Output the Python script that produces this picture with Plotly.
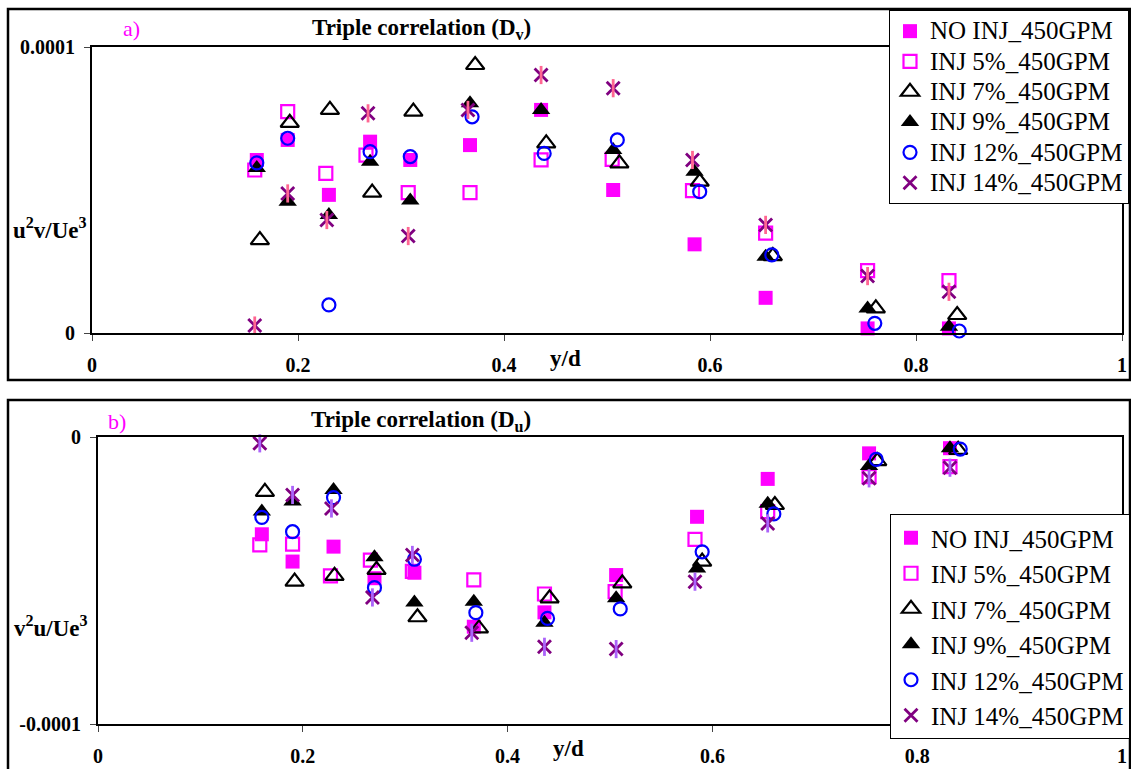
import plotly.graph_objects as go

# Measurement stations y/d for each series (shared by both panels)
x_no_inj = [0.160, 0.190, 0.230, 0.270, 0.309, 0.367, 0.436, 0.506, 0.585, 0.654, 0.753, 0.832]
x_inj5 = [0.158, 0.190, 0.227, 0.266, 0.307, 0.367, 0.436, 0.505, 0.583, 0.654, 0.753, 0.832]
x_inj7 = [0.163, 0.192, 0.231, 0.272, 0.312, 0.372, 0.441, 0.512, 0.590, 0.661, 0.761, 0.840]
x_inj9 = [0.160, 0.190, 0.230, 0.270, 0.309, 0.367, 0.436, 0.506, 0.585, 0.654, 0.753, 0.832]
x_inj12 = [0.160, 0.190, 0.230, 0.270, 0.309, 0.369, 0.439, 0.510, 0.590, 0.660, 0.760, 0.842]
x_inj14 = [0.158, 0.190, 0.228, 0.268, 0.307, 0.365, 0.436, 0.506, 0.583, 0.654, 0.753, 0.832]

# Panel a) triple correlation Dv : u^2 v / Ue^3
dv_no_inj = [6.05e-5, 6.75e-5, 4.83e-5, 6.69e-5, 6.05e-5, 6.57e-5, 7.80e-5, 5.00e-5, 3.10e-5, 1.23e-5, 0.16e-5, 0.16e-5]
dv_inj5 = [5.70e-5, 7.74e-5, 5.58e-5, 6.22e-5, 4.91e-5, 4.91e-5, 6.05e-5, 6.07e-5, 4.98e-5, 3.49e-5, 2.18e-5, 1.83e-5]
dv_inj7 = [3.25e-5, 7.35e-5, 7.80e-5, 4.91e-5, 7.74e-5, 9.37e-5, 6.63e-5, 5.93e-5, 5.29e-5, 2.69e-5, 0.86e-5, 0.63e-5]
dv_inj9 = [5.77e-5, 4.59e-5, 4.13e-5, 5.99e-5, 4.63e-5, 8.03e-5, 7.80e-5, 6.40e-5, 5.64e-5, 2.67e-5, 0.86e-5, 0.22e-5]
dv_inj12 = [5.95e-5, 6.81e-5, 0.98e-5, 6.34e-5, 6.17e-5, 7.56e-5, 6.28e-5, 6.75e-5, 4.94e-5, 2.73e-5, 0.34e-5, 0.07e-5]
dv_inj14 = [0.26e-5, 4.88e-5, 3.95e-5, 7.68e-5, 3.39e-5, 7.80e-5, 9.02e-5, 8.56e-5, 6.05e-5, 3.78e-5, 1.99e-5, 1.44e-5]

# Panel b) triple correlation Du : v^2 u / Ue^3
du_no_inj = [-3.39e-5, -4.34e-5, -3.82e-5, -4.92e-5, -4.73e-5, -6.61e-5, -6.11e-5, -4.81e-5, -2.78e-5, -1.46e-5, -0.57e-5, -0.39e-5]
du_inj5 = [-3.76e-5, -3.73e-5, -4.84e-5, -4.29e-5, -4.68e-5, -4.98e-5, -5.47e-5, -5.39e-5, -3.57e-5, -2.60e-5, -1.38e-5, -1.03e-5]
du_inj7 = [-1.91e-5, -5.04e-5, -4.84e-5, -4.63e-5, -6.28e-5, -6.67e-5, -5.62e-5, -5.10e-5, -4.34e-5, -2.37e-5, -0.84e-5, -0.45e-5]
du_inj9 = [-2.60e-5, -2.25e-5, -1.85e-5, -4.19e-5, -5.77e-5, -5.74e-5, -6.47e-5, -5.62e-5, -4.58e-5, -2.33e-5, -1.01e-5, -0.39e-5]
du_inj12 = [-2.80e-5, -3.30e-5, -2.11e-5, -5.25e-5, -4.26e-5, -6.12e-5, -6.32e-5, -5.99e-5, -4.00e-5, -2.68e-5, -0.78e-5, -0.42e-5]
du_inj14 = [-0.22e-5, -2.02e-5, -2.49e-5, -5.59e-5, -4.11e-5, -6.82e-5, -7.31e-5, -7.39e-5, -5.04e-5, -3.01e-5, -1.44e-5, -1.07e-5]

series_names = ["NO INJ_450GPM", "INJ 5%_450GPM", "INJ 7%_450GPM",
                "INJ 9%_450GPM", "INJ 12%_450GPM", "INJ 14%_450GPM"]
x_tick_vals = [0, 0.2, 0.4, 0.6, 0.8, 1]
x_tick_text = ["0", "0.2", "0.4", "0.6", "0.8", "1"]
dv_tick_vals = [0, 1e-4]
dv_tick_text = ["0", "0.0001"]
du_tick_vals = [-1e-4, 0]
du_tick_text = ["-0.0001", "0"]

W, H = 1131, 769
SERIF = "Liberation Serif"
MAGENTA = "#FF00FF"
PURPLE = "#800080"
BLUE = "#0000FF"
LEGEND_TEXT_PX = 25

styles = [
    dict(symbol="square", size=14, color=MAGENTA, line=dict(width=0, color=MAGENTA)),
    dict(symbol="square-open", size=13, color=MAGENTA, line=dict(width=2.2, color=MAGENTA)),
    dict(symbol="triangle-up-open", size=16, color="black", line=dict(width=2.2, color="black")),
    dict(symbol="triangle-up", size=16, color="black", line=dict(width=0, color="black")),
    dict(symbol="circle-open", size=13, color=BLUE, line=dict(width=2.2, color=BLUE)),
    dict(symbol="x-thin-open", size=13, color=PURPLE, line=dict(width=2.8, color=PURPLE)),
]

xs = [x_no_inj, x_inj5, x_inj7, x_inj9, x_inj12, x_inj14]
dv = [dv_no_inj, dv_inj5, dv_inj7, dv_inj9, dv_inj12, dv_inj14]
du = [du_no_inj, du_inj5, du_inj7, du_inj9, du_inj12, du_inj14]


def px_x(p):
    return p / W


def px_y(p):
    return 1 - p / H


fig = go.Figure()


def add_panel(ydata, xa, ya, legend, tag, big_text):
    for i, (name, st) in enumerate(zip(series_names, styles)):
        label = f'<span style="font-size:{LEGEND_TEXT_PX}px">{name}</span>' if big_text else name
        fig.add_trace(go.Scatter(
            x=xs[i], y=ydata[i], mode="markers", name=label,
            marker=st, xaxis=xa, yaxis=ya, legend=legend,
            legendgroup=f"{tag}{i}", cliponaxis=False,
        ))
        if st["symbol"] == "x-thin-open":
            # vertical stroke completes the six-armed star marker
            fig.add_trace(go.Scatter(
                x=xs[i], y=ydata[i], mode="markers", showlegend=False,
                marker=dict(symbol="line-ns-open", size=13,
                            line=dict(width=2.8, color=PURPLE)),
                xaxis=xa, yaxis=ya, legend=legend,
                legendgroup=f"{tag}{i}", cliponaxis=False, hoverinfo="skip",
            ))


add_panel(dv, "x", "y", "legend", "a", True)
add_panel(du, "x2", "y2", "legend2", "b", False)

tick_font = dict(family=SERIF, size=20, color="black", weight="bold")
axis_common = dict(
    showline=True, linewidth=2, linecolor="black", mirror=True,
    showgrid=False, zeroline=False, ticks="outside", ticklen=6,
    tickwidth=1, tickcolor="#444", tickfont=tick_font, automargin=False,
)

fig.update_layout(
    width=W, height=H,
    margin=dict(l=0, r=0, t=0, b=0, pad=0, autoexpand=False),
    paper_bgcolor="white", plot_bgcolor="white",
    xaxis=dict(domain=[px_x(92), px_x(1122)], range=[0, 1], anchor="y",
               tickvals=x_tick_vals, ticktext=x_tick_text,
               ticklabelstandoff=7, **axis_common),
    yaxis=dict(domain=[px_y(333), px_y(47)], range=[0, 1e-4], anchor="x",
               tickvals=dv_tick_vals, ticktext=dv_tick_text,
               ticklabelstandoff=5, **axis_common),
    xaxis2=dict(domain=[px_x(98), px_x(1122)], range=[0, 1], anchor="y2",
                tickvals=x_tick_vals, ticktext=x_tick_text,
                ticklabelstandoff=7, **axis_common),
    yaxis2=dict(domain=[px_y(724), px_y(437)], range=[-1e-4, 0], anchor="x2",
                tickvals=du_tick_vals, ticktext=du_tick_text,
                ticklabelstandoff=5, **axis_common),
    legend=dict(x=px_x(1129), xanchor="right", y=px_y(10), yanchor="top",
                bgcolor="white", bordercolor="black", borderwidth=1,
                font=dict(family=SERIF, size=21, color="black"),
                tracegroupgap=0, itemclick=False, itemdoubleclick=False),
    legend2=dict(x=px_x(1130), xanchor="right", y=px_y(514), yanchor="top",
                 bgcolor="white", bordercolor="black", borderwidth=1,
                 font=dict(family=SERIF, size=LEGEND_TEXT_PX, color="black"),
                 tracegroupgap=0, itemclick=False, itemdoubleclick=False),
    showlegend=True,
)

# Outer chart frames
fig.add_shape(type="rect", xref="paper", yref="paper",
              x0=px_x(8), x1=px_x(1130), y0=px_y(380), y1=px_y(9),
              line=dict(color="black", width=2.5), layer="below")
fig.add_shape(type="rect", xref="paper", yref="paper",
              x0=px_x(8), x1=px_x(1130), y0=px_y(790), y1=px_y(400),
              line=dict(color="black", width=2.5), layer="below")

label_font = dict(family=SERIF, size=23, color="black", weight="bold")
annots = [
    dict(x=px_x(421), y=px_y(29), text="Triple correlation (D<sub>v</sub>)", font=label_font),
    dict(x=px_x(421), y=px_y(421), text="Triple correlation (D<sub>u</sub>)", font=label_font),
    dict(x=px_x(131), y=px_y(28), text="a)",
         font=dict(family=SERIF, size=22, color=MAGENTA)),
    dict(x=px_x(117), y=px_y(421), text="b)",
         font=dict(family=SERIF, size=22, color=MAGENTA)),
    dict(x=px_x(50), y=px_y(229), text="u<sup>2</sup>v/Ue<sup>3</sup>", font=label_font),
    dict(x=px_x(51), y=px_y(626), text="v<sup>2</sup>u/Ue<sup>3</sup>", font=label_font),
    dict(x=px_x(565), y=px_y(359), text="y/d", font=label_font),
    dict(x=px_x(568), y=px_y(748), text="y/d", font=label_font),
]
for a in annots:
    fig.add_annotation(xref="paper", yref="paper", showarrow=False,
                       xanchor="center", yanchor="middle", **a)

fig.write_html("out.html")
